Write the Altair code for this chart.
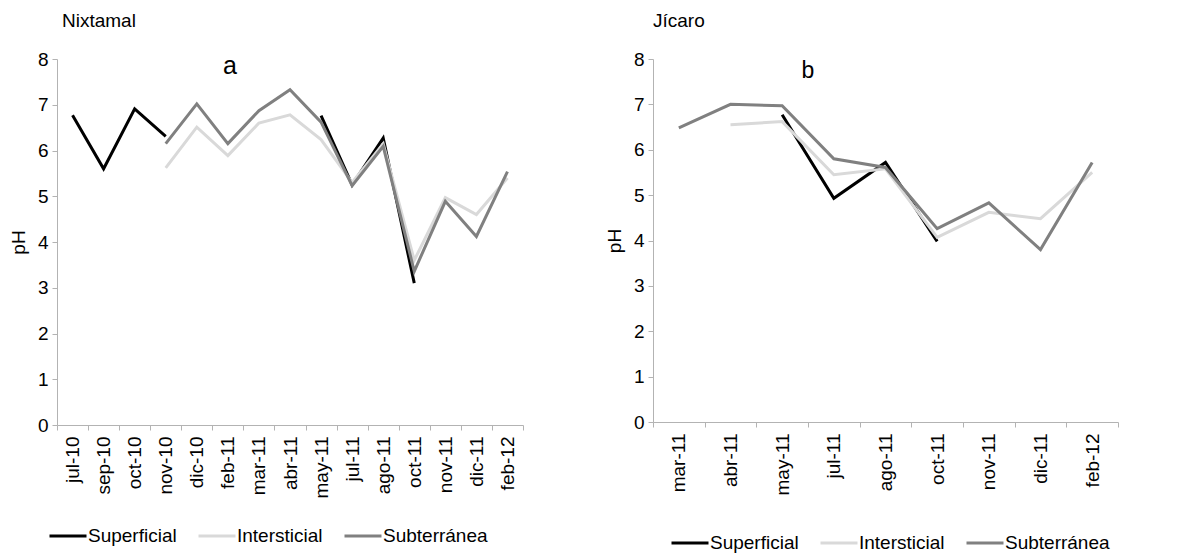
import altair as alt
import pandas as pd

FONT = "Liberation Sans"
FS = 19

series = ["Superficial", "Intersticial", "Subterránea"]
colors = ["#000000", "#d9d9d9", "#808080"]

# Panel a: Nixtamal
months_a = ["jul-10", "sep-10", "oct-10", "nov-10", "dic-10", "feb-11", "mar-11", "abr-11",
            "may-11", "jul-11", "ago-11", "oct-11", "nov-11", "dic-11", "feb-12"]
sup_a = [6.77, 5.60, 6.91, 6.31, None, None, None, None, 6.76, 5.25, 6.27, 3.10, None, None, None]
int_a = [None, None, None, 5.62, 6.51, 5.89, 6.60, 6.78, 6.24, 5.30, 6.15, 3.60, 4.97, 4.60, 5.40]
sub_a = [None, None, None, 6.15, 7.02, 6.15, 6.87, 7.33, 6.62, 5.23, 6.09, 3.36, 4.89, 4.12, 5.54]

# Panel b: Jícaro
months_b = ["mar-11", "abr-11", "may-11", "jul-11", "ago-11", "oct-11", "nov-11", "dic-11", "feb-12"]
sup_b = [None, None, 6.77, 4.93, 5.72, 3.98, None, None, None]
int_b = [None, 6.55, 6.62, 5.45, 5.58, 4.07, 4.62, 4.48, 5.50]
sub_b = [6.48, 7.00, 6.97, 5.80, 5.61, 4.26, 4.83, 3.80, 5.72]


def build(months, cols):
    rows = []
    for name, vals in zip(series, cols):
        seg = 0
        prev_null = True
        for m, v in zip(months, vals):
            if v is None:
                prev_null = True
                continue
            if prev_null:
                seg += 1
                prev_null = False
            rows.append({"mes": m, "pH": v, "serie": name, "seg": f"{name}-{seg}"})
    return pd.DataFrame(rows)


def panel(df, months, title, title_dx, letter, letter_x, letter_y, letter_size,
          legend_x, legend_y, width, height):
    x = alt.X("mes:N", scale=alt.Scale(type="band", domain=months, paddingInner=0, paddingOuter=0),
              bandPosition=0.5,
              axis=alt.Axis(title=None, labelAngle=270, labelAlign="right", labelBaseline="middle",
                            tickBand="extent", labelPadding=6, tickSize=5, grid=False,
                            domainColor="#b3b3b3", tickColor="#b3b3b3", labelFont=FONT,
                            labelFontSize=FS, labelColor="#000000"))
    y = alt.Y("pH:Q", scale=alt.Scale(domain=[0, 8], nice=False),
              axis=alt.Axis(title="pH", values=list(range(9)), grid=False, tickSize=5,
                            labelPadding=4, titlePadding=9, domainColor="#b3b3b3",
                            tickColor="#b3b3b3", labelFont=FONT, labelFontSize=FS,
                            labelColor="#000000", titleFont=FONT, titleFontSize=FS,
                            titleFontWeight="normal", titleColor="#000000"))
    color = alt.Color("serie:N", scale=alt.Scale(domain=series, range=colors),
                      legend=alt.Legend(title=None, orient="none", direction="horizontal",
                                        legendX=legend_x, legendY=legend_y,
                                        symbolType="stroke", symbolSize=1369,
                                        symbolStrokeWidth=3, labelOffset=0, columnPadding=15,
                                        labelFont=FONT, labelFontSize=FS, labelColor="#000000"))
    lines = alt.Chart(df).mark_line(strokeWidth=3).encode(x=x, y=y, color=color,
                                                          detail="seg:N")
    lab = alt.Chart(pd.DataFrame({"t": [letter]})).mark_text(
        font=FONT, fontSize=letter_size, color="#000000").encode(
        text="t:N", x=alt.value(letter_x), y=alt.value(letter_y))
    return alt.layer(lines, lab).properties(
        width=width, height=height,
        title=alt.TitleParams(title, anchor="start", frame="group", dx=title_dx, offset=19,
                              font=FONT, fontSize=FS, fontWeight="normal", color="#000000"))


df_a = build(months_a, [sup_a, int_a, sub_a])
df_b = build(months_b, [sup_b, int_b, sub_b])

left = panel(df_a, months_a, "Nixtamal", 5, "a", 173, 7, 25, -9, 457, 466, 366)
right = panel(df_b, months_b, "Jícaro", 0, "b", 155, 12, 23, 17, 464, 465, 363)

chart = alt.hconcat(left, right, spacing=81).resolve_scale(color="independent").properties(
    padding={"left": 1, "top": 4, "right": 0, "bottom": 0}).configure_view(stroke=None)

chart.save("out.html", embed_options={"renderer": "svg", "actions": False})
